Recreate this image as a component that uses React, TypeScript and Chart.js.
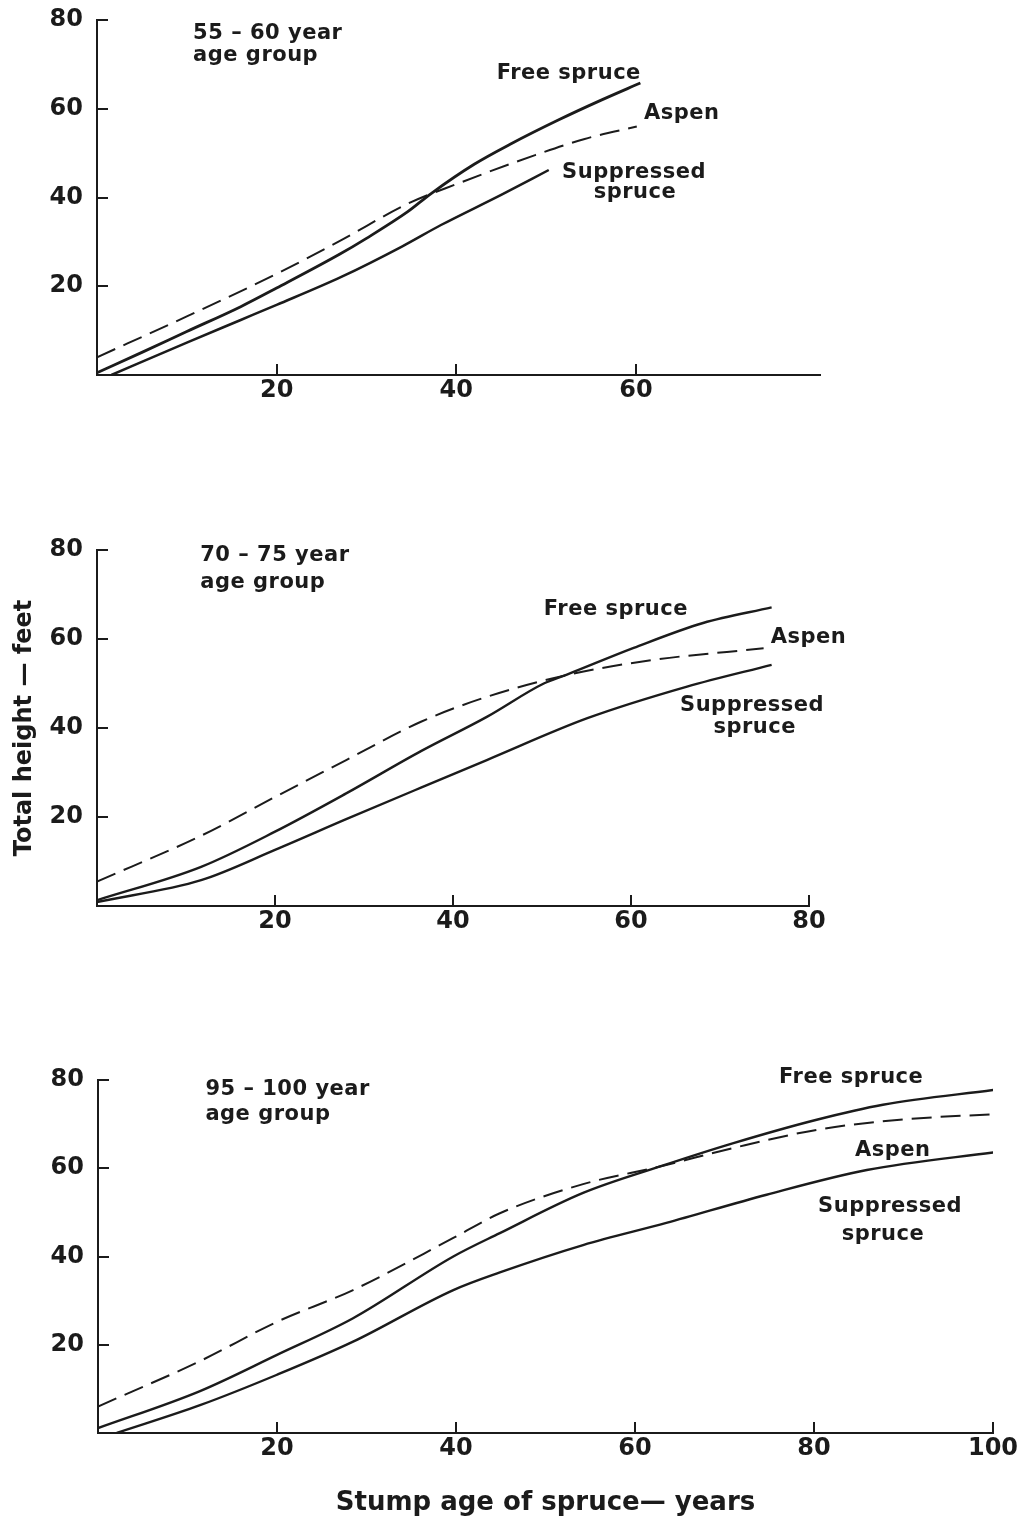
import React, { useEffect, useRef } from "react";
import { Chart, registerables } from "chart.js";

Chart.register(...registerables);

// ---------- DATA ----------
// Panel 1: 55-60 year age group
const p1FreeAge = [0, 5, 10, 16, 20, 27, 30, 34.6, 37.2, 42, 46, 51.3, 56.2, 60.5];
const p1FreeHeight = [0.5, 5.1, 9.8, 15.4, 19.6, 27.2, 30.8, 36.8, 40.9, 47.5, 52, 57.4, 62, 65.8];
const p1AspenAge = [0, 10, 20, 27.2, 34.6, 40, 48.7, 54.3, 60.1];
const p1AspenHeight = [4, 13.2, 22.8, 30.4, 38.6, 43, 49.5, 53.2, 56];
const p1SuppAge = [1.6, 10, 16, 20, 27.2, 34, 38.3, 45, 50.3];
const p1SuppHeight = [0, 7.3, 12.4, 15.8, 22.1, 29, 33.8, 40.6, 46.2];

// Panel 2: 70-75 year age group
const p2FreeAge = [0, 11.7, 20, 28, 36.4, 43.8, 50.2, 52.8, 60.3, 68.1, 75.8];
const p2FreeHeight = [1.3, 8.8, 16.7, 25.3, 34.8, 42.5, 50, 52, 58, 63.6, 67.1];
const p2AspenAge = [0, 11.7, 20, 28, 36.4, 43.8, 52.8, 62.5, 74.9];
const p2AspenHeight = [5.5, 15.8, 24.5, 32.8, 41.4, 47, 51.9, 55.3, 57.9];
const p2SuppAge = [0, 11.7, 20, 28, 36.4, 43.8, 55.1, 66.3, 75.8];
const p2SuppHeight = [0.9, 5.8, 12.6, 19.5, 26.6, 32.8, 42.2, 49.3, 54.2];

// Panel 3: 95-100 year age group
const p3FreeAge = [0, 11.4, 20, 28.5, 39.7, 44.9, 54.2, 62.8, 71, 80.3, 87.7, 100.2];
const p3FreeHeight = [1.1, 9.5, 17.7, 26, 40, 45.3, 54.4, 60.4, 65.7, 71, 74.4, 77.8];
const p3AspenAge = [0, 11.4, 20, 28.5, 39.7, 44.9, 54.2, 62.8, 71, 80.3, 89.6, 100.4];
const p3AspenHeight = [6, 16.3, 25.2, 32.4, 44.2, 49.8, 56.4, 60.4, 64.6, 68.7, 71, 72.3];
const p3SuppAge = [2.1, 11.4, 20, 28.5, 39.7, 44.9, 54.2, 63.5, 74.7, 85.9, 100.8];
const p3SuppHeight = [0, 6.3, 13.2, 20.7, 32.4, 36.4, 42.6, 47.6, 54, 59.6, 63.8];

// Tick labels
const yTickValues = [20, 40, 60, 80];
const p1XTicks = [20, 40, 60];
const p2XTicks = [20, 40, 60, 80];
const p3XTicks = [20, 40, 60, 80, 100];

const yTitle = "Total height — feet";
const xTitle = "Stump age of spruce— years";

// ---------- STYLE ----------
const INK = "#1b1b1b";
const FONT = "'DejaVu Sans', 'Liberation Sans', sans-serif";
const W = 1021;

type Label = { text: string; x: number; y: number; align: CanvasTextAlign };

const textPlugin = {
  id: "panelText",
  afterDraw(chart: any, _args: any, opts: any) {
    const { ctx, scales } = chart;
    const items: Label[] = opts.items || [];
    ctx.save();
    ctx.fillStyle = INK;
    ctx.textBaseline = "middle";
    ctx.font = `bold ${opts.size || 20}px ${FONT}`;
    (ctx as any).letterSpacing = (opts.spacing ?? 1) + "px";
    for (const it of items) {
      ctx.textAlign = it.align;
      ctx.fillText(it.text, scales.x.getPixelForValue(it.x), scales.y.getPixelForValue(it.y));
    }
    ctx.restore();
  },
};

const pts = (xs: number[], ys: number[]) => xs.map((x, i) => ({ x, y: ys[i] }));

type PanelCfg = {
  top: number;
  height: number;
  padTop: number;
  padRight: number;
  yWidth: number;
  xHeight: number;
  xMax: number;
  xTicks: number[];
  free: { x: number; y: number }[];
  aspen: { x: number; y: number }[];
  supp: { x: number; y: number }[];
  freeWidth: number;
  suppWidth: number;
  labels: Label[];
  showYTitle: boolean;
  showXTitle: boolean;
};

const panels: PanelCfg[] = [
  {
    top: 0, height: 440, padTop: 20, padRight: 201, yWidth: 97, xHeight: 65, xMax: 80.5,
    xTicks: p1XTicks,
    free: pts(p1FreeAge, p1FreeHeight),
    aspen: pts(p1AspenAge, p1AspenHeight),
    supp: pts(p1SuppAge, p1SuppHeight),
    freeWidth: 2.8, suppWidth: 2.5,
    labels: [
      { text: "55 – 60 year", x: 10.7, y: 77, align: "left" },
      { text: "age group", x: 10.7, y: 72, align: "left" },
      { text: "Free spruce", x: 44.5, y: 68, align: "left" },
      { text: "Aspen", x: 60.9, y: 58.9, align: "left" },
      { text: "Suppressed", x: 59.8, y: 45.7, align: "center" },
      { text: "spruce", x: 59.9, y: 41.2, align: "center" },
    ],
    showYTitle: false, showXTitle: false,
  },
  {
    top: 480, height: 500, padTop: 70, padRight: 212, yWidth: 97, xHeight: 74, xMax: 80,
    xTicks: p2XTicks,
    free: pts(p2FreeAge, p2FreeHeight),
    aspen: pts(p2AspenAge, p2AspenHeight),
    supp: pts(p2SuppAge, p2SuppHeight),
    freeWidth: 2.4, suppWidth: 2.4,
    labels: [
      { text: "70 – 75 year", x: 11.6, y: 78.7, align: "left" },
      { text: "age group", x: 11.6, y: 72.7, align: "left" },
      { text: "Free spruce", x: 50.2, y: 66.6, align: "left" },
      { text: "Aspen", x: 75.7, y: 60.3, align: "left" },
      { text: "Suppressed", x: 73.6, y: 45, align: "center" },
      { text: "spruce", x: 73.9, y: 40, align: "center" },
    ],
    showYTitle: true, showXTitle: false,
  },
  {
    top: 1040, height: 483, padTop: 40, padRight: 28, yWidth: 98, xHeight: 90, xMax: 100,
    xTicks: p3XTicks,
    free: pts(p3FreeAge, p3FreeHeight),
    aspen: pts(p3AspenAge, p3AspenHeight),
    supp: pts(p3SuppAge, p3SuppHeight),
    freeWidth: 2.4, suppWidth: 2.4,
    labels: [
      { text: "95 – 100 year", x: 12, y: 77.9, align: "left" },
      { text: "age group", x: 12, y: 72.2, align: "left" },
      { text: "Free spruce", x: 76.1, y: 80.5, align: "left" },
      { text: "Aspen", x: 88.8, y: 64.1, align: "center" },
      { text: "Suppressed", x: 88.5, y: 51.3, align: "center" },
      { text: "spruce", x: 87.7, y: 45, align: "center" },
    ],
    showYTitle: false, showXTitle: true,
  },
];

const zeroPadding = (s: any) => {
  s.paddingTop = 0;
  s.paddingBottom = 0;
  s.paddingLeft = 0;
  s.paddingRight = 0;
};

function Panel({ cfg }: { cfg: PanelCfg }) {
  const ref = useRef<HTMLCanvasElement | null>(null);
  useEffect(() => {
    if (!ref.current) return;
    const tickFont = { family: FONT, size: 24, weight: "bold" as const };
    const chart = new Chart(ref.current, {
      type: "line",
      data: {
        datasets: [
          {
            label: "Free spruce",
            data: cfg.free,
            borderColor: INK,
            borderWidth: cfg.freeWidth,
            pointRadius: 0,
            cubicInterpolationMode: "monotone",
            fill: false,
          },
          {
            label: "Aspen",
            data: cfg.aspen,
            borderColor: INK,
            borderWidth: 2,
            borderDash: [20, 9],
            pointRadius: 0,
            cubicInterpolationMode: "monotone",
            fill: false,
          },
          {
            label: "Suppressed spruce",
            data: cfg.supp,
            borderColor: INK,
            borderWidth: cfg.suppWidth,
            pointRadius: 0,
            cubicInterpolationMode: "monotone",
            fill: false,
          },
        ],
      },
      options: {
        responsive: false,
        animation: false,
        devicePixelRatio: 1,
        layout: { padding: { top: cfg.padTop, right: cfg.padRight, bottom: 0, left: 0 } },
        plugins: {
          legend: { display: false },
          tooltip: { enabled: false },
          panelText: { items: cfg.labels, size: 21, spacing: 0.5 },
        } as any,
        scales: {
          x: {
            type: "linear",
            min: 0,
            max: cfg.xMax,
            afterBuildTicks: (s: any) => {
              s.ticks = cfg.xTicks.map((v) => ({ value: v }));
            },
            afterFit: (s: any) => {
              s.height = cfg.xHeight;
              zeroPadding(s);
            },
            grid: { drawOnChartArea: false, drawTicks: true, tickLength: -11, color: INK, lineWidth: 2 },
            border: { display: true, color: INK, width: 2 },
            ticks: { color: INK, font: tickFont, padding: 12, maxRotation: 0, autoSkip: false },
            title: {
              display: cfg.showXTitle,
              text: xTitle,
              color: INK,
              font: { family: FONT, size: 26, weight: "bold" },
              padding: { top: 0, bottom: 4 },
            },
          },
          y: {
            type: "linear",
            min: 0,
            max: 80,
            afterBuildTicks: (s: any) => {
              s.ticks = yTickValues.map((v) => ({ value: v }));
            },
            afterFit: (s: any) => {
              s.width = cfg.yWidth;
              zeroPadding(s);
            },
            grid: { drawOnChartArea: false, drawTicks: true, tickLength: -11, color: INK, lineWidth: 2 },
            border: { display: true, color: INK, width: 2 },
            ticks: { color: INK, font: tickFont, padding: 25 },
            title: {
              display: cfg.showYTitle,
              text: yTitle,
              color: INK,
              font: { family: FONT, size: 24, weight: "bold" },
              padding: { top: 10, bottom: 0 },
            },
          },
        },
      },
      plugins: [textPlugin as any],
    });
    return () => chart.destroy();
  }, [cfg]);
  return (
    <canvas
      ref={ref}
      width={W}
      height={cfg.height}
      style={{ position: "absolute", left: 0, top: cfg.top, width: W, height: cfg.height, display: "block" }}
    />
  );
}

export default function App() {
  return (
    <div style={{ position: "absolute", left: 0, top: 0, width: W, height: 1523, background: "#fff", overflow: "hidden" }}>
      {panels.map((p, i) => (
        <Panel key={i} cfg={p} />
      ))}
    </div>
  );
}
